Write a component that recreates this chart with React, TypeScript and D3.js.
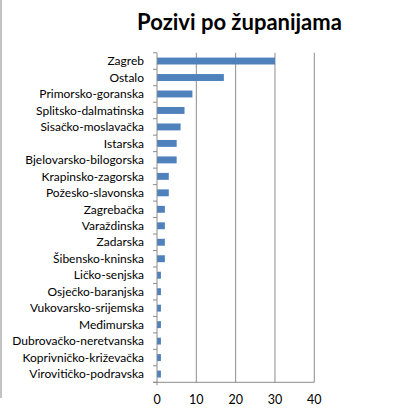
import React from "react";
import * as d3 from "d3";

const categories = [
  "Zagreb",
  "Ostalo",
  "Primorsko-goranska",
  "Splitsko-dalmatinska",
  "Sisačko-moslavačka",
  "Istarska",
  "Bjelovarsko-bilogorska",
  "Krapinsko-zagorska",
  "Požesko-slavonska",
  "Zagrebačka",
  "Varaždinska",
  "Zadarska",
  "Šibensko-kninska",
  "Ličko-senjska",
  "Osječko-baranjska",
  "Vukovarsko-srijemska",
  "Međimurska",
  "Dubrovačko-neretvanska",
  "Koprivničko-križevačka",
  "Virovitičko-podravska",
];
const values = [30, 17, 9, 7, 6, 5, 5, 3, 3, 2, 2, 2, 2, 1, 1, 1, 1, 1, 1, 1];
const xTicks = [0, 10, 20, 30, 40];
const title = "Pozivi po županijama";

const W = 396;
const H = 415;
const left = 157;
const right = 314.3;
const top = 52.8;
const bottom = 382.3;
const font = "Lato, 'Open Sans', sans-serif";

export default function App() {
  const x = d3.scaleLinear().domain([0, 40]).range([left, right]);
  const y = d3.scaleBand<string>().domain(categories).range([top, bottom]).paddingInner(0.58).paddingOuter(0.29);
  const band = d3.scaleBand<string>().domain(categories).range([top, bottom]);
  return (
    <svg width={W} height={H} style={{ position: "absolute", left: 0, top: 0, background: "#fff" }}>
      <line x1={1} x2={1} y1={0} y2={398} stroke="#9a9a9a" strokeWidth={1.2} />
      <text x={239.5} y={30} textAnchor="middle" fontFamily={font} fontWeight="bold" fontSize={22}>
        {title}
      </text>
      {xTicks.slice(1).map((t) => (
        <line key={t} x1={x(t)} x2={x(t)} y1={top} y2={bottom} stroke="#8c8c8c" strokeWidth={1} />
      ))}
      {categories.map((c, i) => (
        <g key={c}>
          <rect x={x(0)} y={y(c)} width={x(values[i]) - x(0)} height={y.bandwidth()} fill="#4F81BD" />
          <text x={144} y={(band(c) as number) + band.bandwidth() / 2} dy="0.35em" textAnchor="end" fontFamily={font} fontSize={12}>
            {c}
          </text>
        </g>
      ))}
      {categories.map((c) => (
        <line key={"t" + c} x1={left - 4} x2={left} y1={band(c)} y2={band(c)} stroke="#8c8c8c" />
      ))}
      <line x1={left - 4} x2={left} y1={bottom} y2={bottom} stroke="#8c8c8c" />
      <line x1={left} x2={left} y1={top} y2={bottom + 3} stroke="#8c8c8c" />
      <line x1={left - 4} x2={right} y1={bottom} y2={bottom} stroke="#8c8c8c" />
      {xTicks.map((t) => (
        <text key={"x" + t} x={x(t)} y={400} dy="0.35em" textAnchor="middle" fontFamily={font} fontSize={12.5}>
          {t}
        </text>
      ))}
    </svg>
  );
}
